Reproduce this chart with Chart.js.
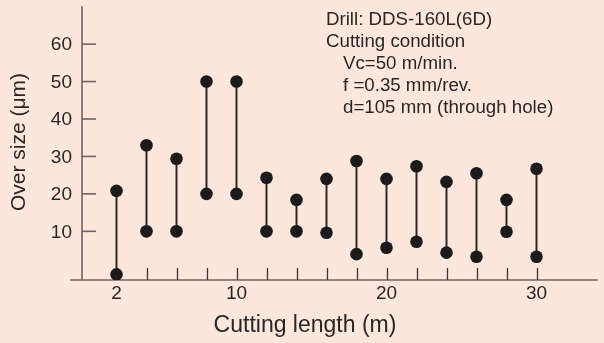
<!DOCTYPE html>
<html>
<head>
<meta charset="utf-8">
<script src="https://cdn.jsdelivr.net/npm/chart.js@4.4.1/dist/chart.umd.min.js"></script>
<style>
  html, body { margin: 0; padding: 0; background: #fde6dc; }
  #wrap { width: 604px; height: 343px; position: relative; }
</style>
</head>
<body>
<div id="wrap"><canvas id="c" width="604" height="343"></canvas></div>
<script>
// ---- data ----
const cuttingLength = [2, 4, 6, 8, 10, 12, 14, 16, 18, 20, 22, 24, 26, 28, 30];
const overSizeMin = [-1.5, 10, 10, 20, 20, 10, 10, 9.6, 3.9, 5.6, 7.2, 4.3, 3.2, 9.9, 3.2];
const overSizeMax = [20.8, 33, 29.4, 50, 50, 24.3, 18.4, 24, 28.8, 24, 27.4, 23.2, 25.5, 18.4, 26.7];
const xTickValues = [2, 4, 6, 8, 10, 12, 14, 16, 18, 20, 22, 24, 26, 28, 30];
const xTickLabels = ['2', '', '', '', '10', '', '', '', '', '20', '', '', '', '', '30'];
const yTickValues = [10, 20, 30, 40, 50, 60];
const yTickLabels = ['10', '20', '30', '40', '50', '60'];
const yAxisAtX = -0.3;
const noteLines = [
  {text: 'Drill: DDS-160L(6D)', indent: 0},
  {text: 'Cutting condition', indent: 0},
  {text: 'Vc=50 m/min.', indent: 1},
  {text: 'f =0.35 mm/rev.', indent: 1},
  {text: 'd=105 mm (through hole)', indent: 1}
];
const xTitle = 'Cutting length (m)';
const yTitle = 'Over size (\u03bcm)';

const FONT = '"Liberation Sans", Arial, Helvetica, sans-serif';
const TEXT = '#2a2626';
const AXIS = '#6f6462';

const rangeData = cuttingLength.map((x, i) => ({x: x, y: [overSizeMin[i], overSizeMax[i]]}));
const pointData = [];
cuttingLength.forEach((x, i) => {
  pointData.push({x: x, y: overSizeMin[i]});
  pointData.push({x: x, y: overSizeMax[i]});
});

const axesPlugin = {
  id: 'axesPlugin',
  beforeDatasetsDraw(chart) {
    const ctx = chart.ctx;
    const xs = chart.scales.x, ys = chart.scales.y;
    const area = chart.chartArea;
    const yAxisPx = xs.getPixelForValue(yAxisAtX);
    const xAxisPx = area.bottom;
    ctx.save();
    ctx.strokeStyle = AXIS;
    ctx.lineWidth = 1.6;
    ctx.beginPath();
    ctx.moveTo(area.left, xAxisPx);
    ctx.lineTo(area.right, xAxisPx);
    ctx.stroke();
    ctx.beginPath();
    ctx.moveTo(yAxisPx, area.top);
    ctx.lineTo(yAxisPx, xAxisPx);
    ctx.stroke();
    ctx.strokeStyle = '#3a3434';
    ctx.lineWidth = 1.3;
    xTickValues.forEach(v => {
      const px = Math.round(xs.getPixelForValue(v)) + 0.5;
      ctx.beginPath();
      ctx.moveTo(px, xAxisPx);
      ctx.lineTo(px, xAxisPx - 12);
      ctx.stroke();
    });
    ctx.strokeStyle = AXIS;
    ctx.lineWidth = 1.6;
    yTickValues.forEach(v => {
      const py = ys.getPixelForValue(v);
      ctx.beginPath();
      ctx.moveTo(yAxisPx, py);
      ctx.lineTo(yAxisPx + 14, py);
      ctx.stroke();
    });
    ctx.fillStyle = TEXT;
    ctx.font = '19px ' + FONT;
    ctx.textAlign = 'center';
    ctx.textBaseline = 'middle';
    xTickValues.forEach((v, i) => {
      if (xTickLabels[i]) ctx.fillText(xTickLabels[i], xs.getPixelForValue(v), xAxisPx + 14);
    });
    ctx.textAlign = 'right';
    yTickValues.forEach((v, i) => {
      ctx.fillText(yTickLabels[i], yAxisPx - 10, ys.getPixelForValue(v) + 1);
    });
    ctx.font = '23px ' + FONT;
    ctx.textAlign = 'center';
    ctx.fillText(xTitle, 305, 326);
    ctx.font = '21px ' + FONT;
    ctx.save();
    ctx.translate(19, 142);
    ctx.rotate(-Math.PI / 2);
    ctx.fillText(yTitle, 0, 0);
    ctx.restore();
    ctx.font = '18.7px ' + FONT;
    ctx.textAlign = 'left';
    ctx.textBaseline = 'alphabetic';
    noteLines.forEach((l, i) => {
      ctx.fillText(l.text, 326 + l.indent * 17, 25 + i * 22);
    });
    ctx.restore();
  }
};

new Chart(document.getElementById('c'), {
  type: 'scatter',
  data: {
    datasets: [
      {
        type: 'bar',
        data: rangeData,
        backgroundColor: '#2a2626',
        borderWidth: 0,
        barThickness: 1.3,
        grouped: false,
        order: 2
      },
      {
        type: 'scatter',
        data: pointData,
        pointRadius: 6.3,
        pointBackgroundColor: '#1c1a1a',
        pointBorderColor: '#1c1a1a',
        pointBorderWidth: 0,
        order: 1
      }
    ]
  },
  options: {
    responsive: false,
    animation: false,
    events: [],
    layout: {padding: {left: 70, right: 0, top: 6, bottom: 63}},
    plugins: {legend: {display: false}, tooltip: {enabled: false}},
    scales: {
      x: {type: 'linear', display: false, offset: false, min: -1.1, max: 34.08},
      y: {type: 'linear', display: false, min: -3, max: 70.1}
    }
  },
  plugins: [axesPlugin]
});
</script>
</body>
</html>
